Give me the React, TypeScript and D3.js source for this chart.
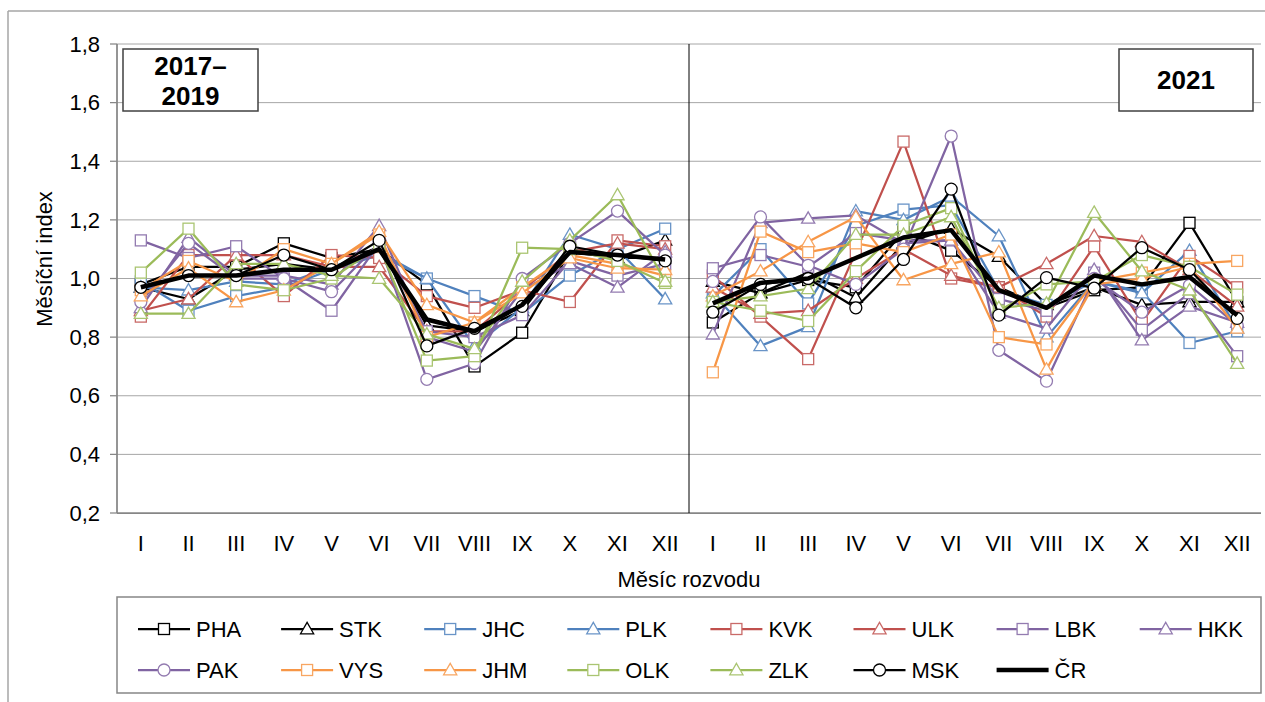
import React from 'react';
import * as d3 from 'd3';

// months of both periods (left: 2017–2019 average, right: 2021)
const months = ['I', 'II', 'III', 'IV', 'V', 'VI', 'VII', 'VIII', 'IX', 'X', 'XI', 'XII'];
const periods = ['2017–2019', '2021'];
const yTicks = [0.2, 0.4, 0.6, 0.8, 1.0, 1.2, 1.4, 1.6, 1.8];

// 12 values for 2017–2019 followed by 12 values for 2021
const PHA = [0.98, 1.04, 1.04, 1.12, 1.07, 1.10, 0.98, 0.70, 0.815, 1.09, 1.07, 1.07,
  0.85, 0.95, 0.995, 0.97, 1.16, 1.095, 0.97, 0.90, 0.96, 0.97, 1.19, 0.92];
const STK = [0.97, 0.93, 1.03, 1.05, 1.03, 1.11, 0.84, 0.82, 0.89, 1.10, 1.07, 1.13,
  0.99, 0.95, 1.02, 0.935, 1.12, 1.17, 1.075, 0.91, 0.97, 0.91, 0.92, 0.92];
const JHC = [0.99, 0.89, 0.94, 0.97, 1.03, 1.08, 1.00, 0.94, 0.88, 1.01, 1.10, 1.17,
  0.94, 1.10, 0.915, 1.18, 1.235, 1.25, 0.96, 0.91, 0.99, 0.955, 0.78, 0.82];
const PLK = [0.97, 0.96, 0.99, 0.98, 1.04, 1.09, 1.00, 0.77, 0.90, 1.15, 1.10, 0.93,
  0.95, 0.77, 0.835, 1.23, 1.20, 1.28, 1.145, 0.80, 0.99, 0.95, 1.095, 0.83];
const KVK = [0.87, 1.08, 1.08, 0.94, 1.08, 1.07, 0.94, 0.90, 0.96, 0.92, 1.13, 1.11,
  1.01, 0.87, 0.725, 1.09, 1.467, 1.00, 0.97, 0.87, 1.11, 0.85, 1.077, 0.97];
const ULK = [0.89, 0.93, 1.08, 1.08, 1.04, 1.04, 0.82, 0.82, 0.96, 1.09, 1.12, 1.10,
  0.97, 0.88, 0.89, 1.00, 1.10, 1.01, 0.97, 1.05, 1.145, 1.125, 1.03, 0.905];
const LBK = [1.13, 1.07, 1.11, 1.00, 0.89, 1.12, 0.82, 0.80, 0.875, 1.06, 1.01, 1.05,
  1.035, 1.08, 1.04, 1.155, 1.13, 1.13, 0.93, 0.89, 1.02, 0.825, 0.95, 0.735];
const HKK = [0.90, 1.14, 1.01, 1.01, 0.98, 1.18, 0.80, 0.75, 0.96, 1.05, 0.97, 1.09,
  0.81, 1.19, 1.205, 1.215, 1.12, 1.13, 0.88, 0.83, 1.03, 0.79, 0.905, 0.85];
const PAK = [0.92, 1.12, 1.00, 1.00, 0.955, 1.12, 0.656, 0.71, 1.00, 1.12, 1.23, 1.08,
  0.99, 1.21, 1.045, 0.98, 1.10, 1.486, 0.755, 0.65, 1.00, 0.885, 0.977, 0.84];
const VYS = [0.96, 1.06, 0.99, 1.10, 1.05, 1.15, 0.80, 0.85, 0.97, 1.08, 1.05, 1.01,
  0.68, 1.16, 1.09, 1.12, 1.09, 1.15, 0.80, 0.775, 0.99, 1.02, 1.05, 1.06];
const JHM = [0.94, 1.035, 0.92, 0.96, 1.05, 1.16, 0.91, 0.85, 0.95, 1.07, 1.035, 1.03,
  0.94, 1.025, 1.125, 1.21, 0.995, 1.05, 1.09, 0.69, 0.98, 1.00, 1.04, 0.83];
const OLK = [1.02, 1.17, 0.98, 0.96, 1.00, 1.11, 0.72, 0.735, 1.105, 1.10, 1.06, 0.985,
  0.92, 0.89, 0.855, 1.025, 1.18, 1.24, 0.89, 0.98, 0.99, 1.08, 1.04, 0.945];
const ZLK = [0.88, 0.88, 1.05, 1.05, 1.01, 1.00, 0.81, 0.76, 0.99, 1.13, 1.285, 0.99,
  0.92, 0.94, 0.965, 1.15, 1.15, 1.21, 0.90, 0.915, 1.225, 1.025, 0.96, 0.71];
const MSK = [0.97, 1.01, 1.01, 1.08, 1.03, 1.13, 0.77, 0.83, 0.905, 1.11, 1.08, 1.06,
  0.885, 0.98, 1.00, 0.90, 1.065, 1.305, 0.875, 1.003, 0.967, 1.105, 1.03, 0.864];
const CR = [0.97, 1.01, 1.01, 1.03, 1.03, 1.10, 0.86, 0.82, 0.91, 1.09, 1.08, 1.065,
  0.915, 0.985, 1.00, 1.07, 1.14, 1.165, 0.96, 0.90, 1.01, 0.98, 1.005, 0.875];

const BLACK = '#000000';
const BLUE = '#4f81bd';
const RED = '#c0504d';
const PURPLE = '#8064a2';
const ORANGE = '#f79646';
const GREEN = '#9bbb59';

type Marker = 'square' | 'triangle' | 'circle' | 'none';
interface Series { name: string; values: number[]; color: string; marker: Marker; width: number; }

const series: Series[] = [
  { name: 'PHA', values: PHA, color: BLACK, marker: 'square', width: 2.25 },
  { name: 'STK', values: STK, color: BLACK, marker: 'triangle', width: 2.25 },
  { name: 'JHC', values: JHC, color: BLUE, marker: 'square', width: 2.25 },
  { name: 'PLK', values: PLK, color: BLUE, marker: 'triangle', width: 2.25 },
  { name: 'KVK', values: KVK, color: RED, marker: 'square', width: 2.25 },
  { name: 'ULK', values: ULK, color: RED, marker: 'triangle', width: 2.25 },
  { name: 'LBK', values: LBK, color: PURPLE, marker: 'square', width: 2.25 },
  { name: 'HKK', values: HKK, color: PURPLE, marker: 'triangle', width: 2.25 },
  { name: 'PAK', values: PAK, color: PURPLE, marker: 'circle', width: 2.25 },
  { name: 'VYS', values: VYS, color: ORANGE, marker: 'square', width: 2.25 },
  { name: 'JHM', values: JHM, color: ORANGE, marker: 'triangle', width: 2.25 },
  { name: 'OLK', values: OLK, color: GREEN, marker: 'square', width: 2.25 },
  { name: 'ZLK', values: ZLK, color: GREEN, marker: 'triangle', width: 2.25 },
  { name: 'MSK', values: MSK, color: BLACK, marker: 'circle', width: 2.25 },
  { name: 'ČR', values: CR, color: BLACK, marker: 'none', width: 4.5 },
];

const FONT = '"Liberation Sans", Arial, sans-serif';
const left = 117;
const right = 1261;
const top = 44;
const bottom = 513;

const slots = periods.flatMap(p => months.map(m => `${p}|${m}`));
const x = d3.scaleBand<string>().domain(slots).range([left, right]).padding(0);
const y = d3.scaleLinear().domain([0.2, 1.8]).range([bottom, top]);
const fmt = (v: number) => v.toFixed(1).replace('.', ',');

const markerStroke = (c: string) => (c === BLACK ? BLACK : d3.interpolateRgb(c, '#ffffff')(0.15));

function MarkerShape({ kind, cx, cy, color }: { kind: Marker; cx: number; cy: number; color: string }) {
  const stroke = markerStroke(color);
  if (kind === 'square') {
    return <rect x={cx - 5.5} y={cy - 5.5} width={11} height={11} fill="#fff" stroke={stroke} strokeWidth={1.3} />;
  }
  if (kind === 'triangle') {
    const tri = d3.symbol(d3.symbolTriangle, 75)();
    return <path d={tri || ''} transform={`translate(${cx},${cy + 1})`} fill="#fff" stroke={stroke} strokeWidth={1.3} />;
  }
  if (kind === 'circle') {
    return <circle cx={cx} cy={cy} r={6} fill="#fff" stroke={stroke} strokeWidth={1.3} />;
  }
  return null;
}

export default function App() {
  const line = d3.line<[number, number]>().x(d => d[0]).y(d => d[1]);
  const cx = (i: number) => (x(slots[i]) ?? 0) + x.bandwidth() / 2;
  const divider = x(slots[12]) ?? 0;

  const legendCols = 8;
  const legendX0 = 138;
  const legendDx = 143.1;

  return (
    <svg width={1265} height={702} style={{ display: 'block', position: 'absolute', left: 0, top: 0 }}>
      <rect x={0} y={0} width={1265} height={702} fill="#fff" />
      {/* outer frame */}
      <line x1={8} y1={11} x2={1265} y2={11} stroke="#a6a6a6" strokeWidth={1.5} />
      <line x1={8} y1={11} x2={8} y2={702} stroke="#a6a6a6" strokeWidth={1.5} />

      {/* gridlines */}
      {yTicks.slice(1).map(t => (
        <line key={t} x1={left} x2={right} y1={y(t)} y2={y(t)} stroke="#a6a6a6" strokeWidth={1} />
      ))}
      {/* y axis */}
      <line x1={left} x2={left} y1={top} y2={bottom} stroke="#868686" strokeWidth={1.75} />
      {yTicks.map(t => (
        <g key={t}>
          <line x1={left - 7} x2={left} y1={y(t)} y2={y(t)} stroke="#868686" strokeWidth={1.25} />
          <text x={left - 17} y={y(t)} dy="0.35em" textAnchor="end" fontFamily={FONT} fontSize={22}>{fmt(t)}</text>
        </g>
      ))}
      {/* x axis */}
      <line x1={left} x2={right} y1={bottom} y2={bottom} stroke="#868686" strokeWidth={1.75} />
      {slots.map((s, i) => (
        <text key={s} x={cx(i)} y={551} textAnchor="middle" fontFamily={FONT} fontSize={22}>{months[i % 12]}</text>
      ))}
      <line x1={divider} x2={divider} y1={top} y2={bottom} stroke="#000" strokeWidth={1} />

      <text x={(left + right) / 2} y={587} textAnchor="middle" fontFamily={FONT} fontSize={22}>Měsíc rozvodu</text>
      <text transform={`translate(52,259) rotate(-90)`} textAnchor="middle" fontFamily={FONT} fontSize={22}>Měsíční index</text>

      {/* series */}
      {series.map(s => (
        <g key={s.name}>
          {[0, 12].map(off => (
            <path key={off}
              d={line(s.values.slice(off, off + 12).map((v, j) => [cx(off + j), y(v)] as [number, number])) || ''}
              fill="none" stroke={s.color} strokeWidth={s.width} strokeLinejoin="round" />
          ))}
          {s.values.map((v, i) => (
            <MarkerShape key={i} kind={s.marker} cx={cx(i)} cy={y(v)} color={s.color} />
          ))}
        </g>
      ))}

      {/* period boxes */}
      <rect x={123} y={49} width={135} height={62} fill="#fff" stroke="#404040" strokeWidth={1.5} />
      <text x={190.5} y={75} textAnchor="middle" fontFamily={FONT} fontSize={26} fontWeight="bold">2017–</text>
      <text x={190.5} y={105} textAnchor="middle" fontFamily={FONT} fontSize={26} fontWeight="bold">2019</text>
      <rect x={1119} y={49} width={134} height={62} fill="#fff" stroke="#404040" strokeWidth={1.5} />
      <text x={1186} y={89} textAnchor="middle" fontFamily={FONT} fontSize={26} fontWeight="bold">{periods[1]}</text>

      {/* legend */}
      <rect x={left} y={597} width={right - left} height={96} fill="#fff" stroke="#868686" strokeWidth={1.5} />
      {series.map((s, i) => {
        const lx = legendX0 + (i % legendCols) * legendDx;
        const ly = i < legendCols ? 629 : 670;
        return (
          <g key={s.name}>
            <line x1={lx} x2={lx + 52} y1={ly} y2={ly} stroke={s.color} strokeWidth={s.width} />
            <MarkerShape kind={s.marker} cx={lx + 26} cy={ly} color={s.color} />
            <text x={lx + 58} y={ly} dy="0.35em" fontFamily={FONT} fontSize={22}>{s.name}</text>
          </g>
        );
      })}
    </svg>
  );
}
